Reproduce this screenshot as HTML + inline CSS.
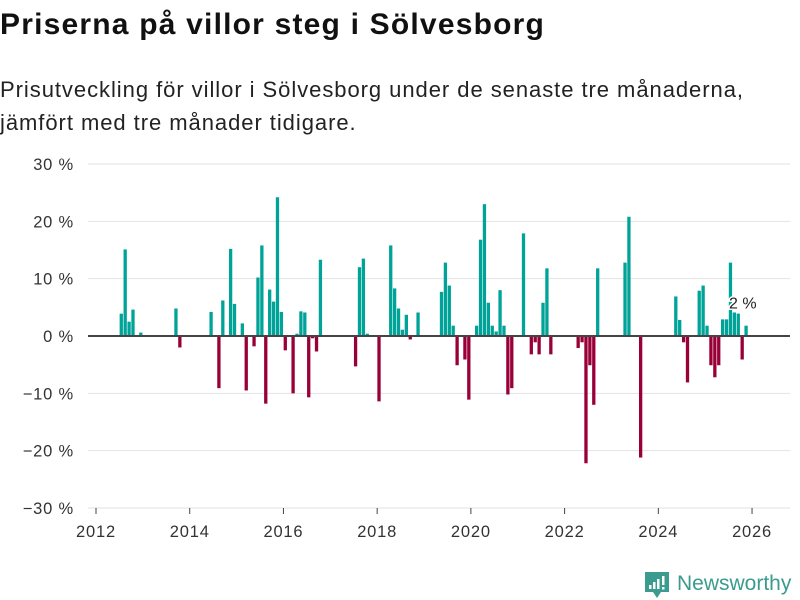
<!DOCTYPE html>
<html><head><meta charset="utf-8">
<style>
body{margin:0;background:#fff;font-family:"Liberation Sans","DejaVu Sans",sans-serif;}
#wrap{position:relative;width:800px;height:600px;overflow:hidden;}
h1{position:absolute;left:0;top:8px;margin:0;font-size:30px;font-weight:bold;color:#111;letter-spacing:1.2px;}
p.sub{position:absolute;left:0;top:73px;margin:0;font-size:22px;line-height:33px;color:#222;letter-spacing:0.95px;}
svg{position:absolute;left:0;top:0;}
</style></head>
<body>
<div id="wrap">
<h1>Priserna på villor steg i Sölvesborg</h1>
<p class="sub">Prisutveckling för villor i Sölvesborg under de senaste tre månaderna,<br>jämfört med tre månader tidigare.</p>
<svg id="chart" width="800" height="600"></svg>
</div>
<script>
const months = ["2012-07","2012-08","2012-09","2012-10","2012-12","2013-09","2013-10","2014-06","2014-08","2014-09","2014-11","2014-12","2015-02","2015-03","2015-05","2015-06","2015-07","2015-08","2015-09","2015-10","2015-11","2015-12","2016-01","2016-03","2016-04","2016-05","2016-06","2016-07","2016-08","2016-09","2016-10",
"2017-07","2017-08","2017-09","2017-10","2018-01","2018-04","2018-05","2018-06","2018-07","2018-08","2018-09","2018-11","2019-05","2019-06","2019-07","2019-08","2019-09","2019-11","2019-12","2020-02","2020-03","2020-04","2020-05","2020-06","2020-07","2020-08","2020-09","2020-10","2020-11","2021-02","2021-04","2021-05","2021-06","2021-07","2021-08","2021-09",
"2022-04","2022-05","2022-06","2022-07","2022-08","2022-09","2023-04","2023-05","2023-08","2024-05","2024-06","2024-07","2024-08","2024-11","2024-12","2025-01","2025-02","2025-03","2025-04","2025-05","2025-06","2025-07","2025-08","2025-09","2025-10","2025-11"];
const values = [3.9,15.1,2.5,4.6,0.6,4.8,-2.0,4.2,-9.1,6.2,15.2,5.6,2.2,-9.5,-1.8,10.2,15.8,-11.8,8.1,6.0,24.2,4.2,-2.5,-10.0,0.4,4.3,4.1,-10.7,-0.4,-2.7,13.3,
-5.3,12.0,13.5,0.4,-11.4,15.8,8.3,4.8,1.1,3.7,-0.6,4.1,7.7,12.8,8.8,1.8,-5.1,-4.1,-11.1,1.8,16.8,23.0,5.8,1.8,0.8,8.0,1.8,-10.2,-9.1,17.9,-3.2,-1.1,-3.2,5.8,11.8,-3.2,
-2.1,-1.1,-22.2,-5.1,-12.0,11.8,12.8,20.8,-21.2,6.9,2.8,-1.1,-8.1,7.9,8.8,1.8,-5.1,-7.2,-5.1,2.9,2.9,12.8,4.1,3.9,-4.1,1.8];
const yTicks = [-30,-20,-10,0,10,20,30];
const yTickLabels = ["\u221230 %","\u221220 %","\u221210 %","0 %","10 %","20 %","30 %"];
const xTicks = [2012,2014,2016,2018,2020,2022,2024,2026];
const lastLabel = "2 %";

const NS="http://www.w3.org/2000/svg";
const svg=document.getElementById('chart');
function y(v){return 336 - v*5.733;}
function x(t){return 96 + (t-2012)*46.86;}
function mx(s){const [yy,mm]=s.split('-').map(Number);return x(yy+(mm-1)/12);}
function mk(tag,attrs){const e=document.createElementNS(NS,tag);for(const k in attrs)e.setAttribute(k,attrs[k]);svg.appendChild(e);return e;}

yTicks.forEach((t,i)=>{
  if(t!==0){const g=mk('line',{x1:88,x2:790,y1:y(t),y2:y(t),stroke:'#e2e2e2','stroke-width':1});
  
  }
  const l=mk('text',{x:74,y:y(t)+6,'text-anchor':'end','font-size':16.5,'letter-spacing':0.8,fill:'#333','font-family':'"Liberation Sans",sans-serif'});
  l.textContent=yTickLabels[i];
  
  
});
xTicks.forEach(t=>{
  const tk=mk('line',{x1:x(t),x2:x(t),y1:508,y2:514,stroke:'#444','stroke-width':1});
  
  
  const l=mk('text',{x:x(t),y:537,'text-anchor':'middle','font-size':16.5,'letter-spacing':0.8,fill:'#333','font-family':'"Liberation Sans",sans-serif'});
  l.textContent=t;
  
  
});
months.forEach((m,i)=>{
  const v=values[i];const x0=mx(m)+0.2;
  const r=mk('rect',{x:x0,width:3.3,y:Math.min(y(v),y(0)),height:Math.abs(y(v)-y(0)),fill:v>=0?'#00a398':'#990038'});
  
  
});
const zl=mk('line',{x1:88,x2:790,y1:y(0),y2:y(0),stroke:'#444','stroke-width':2});


const lbl=mk('text',{x:729,y:y(values[values.length-1])-17,'font-size':16,fill:'#222',stroke:'#fff','stroke-width':3,'paint-order':'stroke','font-family':'"Liberation Sans",sans-serif'});
lbl.textContent=lastLabel;


</script>
<svg width="800" height="600" style="position:absolute;left:0;top:0;pointer-events:none">
  <path d="M645 572 h24 v20 h-8 l-4 6 l-4 -6 h-8 z" fill="#3a9b8e"/>
  <rect x="649" y="585" width="2.5" height="4" fill="#fff"/>
  <rect x="653" y="582" width="2.5" height="7" fill="#fff"/>
  <rect x="657" y="579" width="2.5" height="10" fill="#fff"/>
  <rect x="662" y="576" width="2.5" height="9" fill="#fff"/>
  <rect x="662" y="587" width="2.5" height="2.5" fill="#fff"/>
  <text x="677" y="590" font-size="21" fill="#3a9b8e" font-family="Liberation Sans, sans-serif">Newsworthy</text>
</svg>
</body></html>
